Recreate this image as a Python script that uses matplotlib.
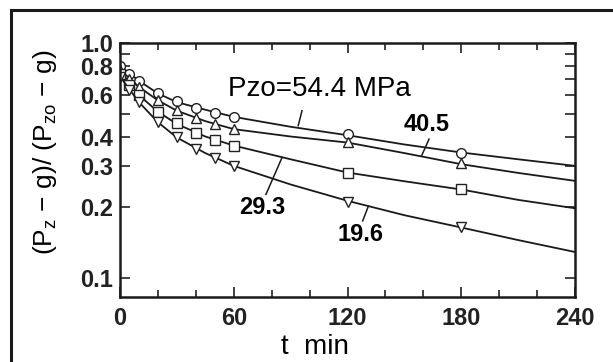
import matplotlib
matplotlib.use('Agg')
import matplotlib.pyplot as plt
from matplotlib.patches import Rectangle
from matplotlib.ticker import FixedLocator, NullFormatter, NullLocator

plt.rcParams['font.family'] = ['Liberation Sans', 'DejaVu Sans']
plt.rcParams['mathtext.fontset'] = 'custom'
plt.rcParams['mathtext.rm'] = 'Liberation Sans'

# smooth curves
t_line = [0, 10, 20, 30, 45, 60, 90, 120, 150, 180, 210, 240]
line_544 = [0.80, 0.69, 0.61, 0.56, 0.52, 0.485, 0.44, 0.405, 0.37, 0.342, 0.32, 0.30]
line_405 = [0.77, 0.65, 0.57, 0.515, 0.465, 0.43, 0.40, 0.377, 0.34, 0.305, 0.28, 0.259]
line_293 = [0.74, 0.60, 0.51, 0.452, 0.40, 0.366, 0.32, 0.281, 0.258, 0.238, 0.215, 0.198]
line_196 = [0.72, 0.56, 0.46, 0.396, 0.34, 0.30, 0.25, 0.213, 0.185, 0.164, 0.145, 0.129]

# measured points
t_pts = [0, 5, 10, 20, 30, 40, 50, 60, 120, 180]
pts_544 = [0.80, 0.74, 0.69, 0.61, 0.565, 0.53, 0.505, 0.485, 0.41, 0.34]
pts_405 = [0.77, 0.70, 0.65, 0.57, 0.52, 0.48, 0.45, 0.43, 0.38, 0.31]
pts_293 = [0.74, 0.66, 0.60, 0.51, 0.455, 0.415, 0.385, 0.366, 0.28, 0.24]
pts_196 = [0.72, 0.63, 0.56, 0.46, 0.40, 0.355, 0.325, 0.30, 0.21, 0.165]

y_ticks = [0.1, 0.2, 0.3, 0.4, 0.5, 0.6, 0.7, 0.8, 0.9, 1.0]
y_labels = {0.1: '0.1', 0.2: '0.2', 0.3: '0.3', 0.4: '0.4', 0.6: '0.6', 0.8: '0.8', 1.0: '1.0'}
x_ticks = [0, 60, 120, 180, 240]

fig = plt.figure(figsize=(6.13, 3.62), dpi=100)
ax = fig.add_axes([120/613, 1 - 297/362, 455/613, 254/362])

series = [
    (line_544, pts_544, 'o'),
    (line_405, pts_405, '^'),
    (line_293, pts_293, 's'),
    (line_196, pts_196, 'v'),
]
for line, pts, m in series:
    ax.plot(t_line, line, color='#1a1a1a', lw=1.3)
    ax.plot(t_pts, pts, m, ms=7, mfc='white', mec='#222222', mew=1.0, ls='none')

ax.set_yscale('log')
ax.set_xlim(0, 240)
ax.set_ylim(0.083, 1.0)

ax.yaxis.set_major_locator(FixedLocator(y_ticks))
ax.yaxis.set_minor_locator(NullLocator())
ax.set_yticklabels([y_labels.get(v, '') for v in y_ticks])
ax.xaxis.set_major_locator(FixedLocator(x_ticks))
ax.xaxis.set_minor_locator(FixedLocator(range(0, 241, 20)))
ax.xaxis.set_minor_formatter(NullFormatter())

ax.tick_params(which='both', direction='in', top=True, right=True,
               labelsize=17, width=1.2, colors='#222222')
ax.tick_params(which='major', length=7, pad=5)
ax.tick_params(which='minor', length=5)
ax.tick_params(axis='x', which='major', pad=7)
for lab in ax.get_xticklabels() + ax.get_yticklabels():
    lab.set_fontweight('bold')
for s in ax.spines.values():
    s.set_linewidth(1.8)
    s.set_color('#1a1a1a')

# curve labels with leader lines
ax.text(57, 0.64, 'Pzo=54.4 MPa', fontsize=20, va='center', ha='left')
ax.plot([96, 94], [0.515, 0.445], color='#1a1a1a', lw=1.1)
ax.text(162, 0.452, '40.5', fontsize=17, va='center', ha='center', fontweight='bold')
ax.plot([163, 159], [0.39, 0.33], color='#1a1a1a', lw=1.1)
ax.text(75, 0.199, '29.3', fontsize=17, va='center', ha='center', fontweight='bold')
ax.plot([77, 85.5], [0.227, 0.326], color='#1a1a1a', lw=1.1)
ax.text(127, 0.153, '19.6', fontsize=17, va='center', ha='center', fontweight='bold')
ax.plot([128, 131], [0.175, 0.202], color='#1a1a1a', lw=1.1)

fig.text(45/613, 1 - 152/362, r'(P$_{\mathregular{z}}$ $-$ g)/ (P$_{\mathregular{zo}}$ $-$ g)',
         rotation=90, fontsize=19, ha='center', va='center')
fig.text(315/613, 1 - 347/362, 't  min', fontsize=20, ha='center', va='center')

fig.add_artist(Rectangle((11/613, -0.1), 1.2, 1.1 - 10/362, transform=fig.transFigure,
                         fill=False, lw=2.2, edgecolor='#1a1a1a'))

fig.savefig('out.png', dpi=100)
